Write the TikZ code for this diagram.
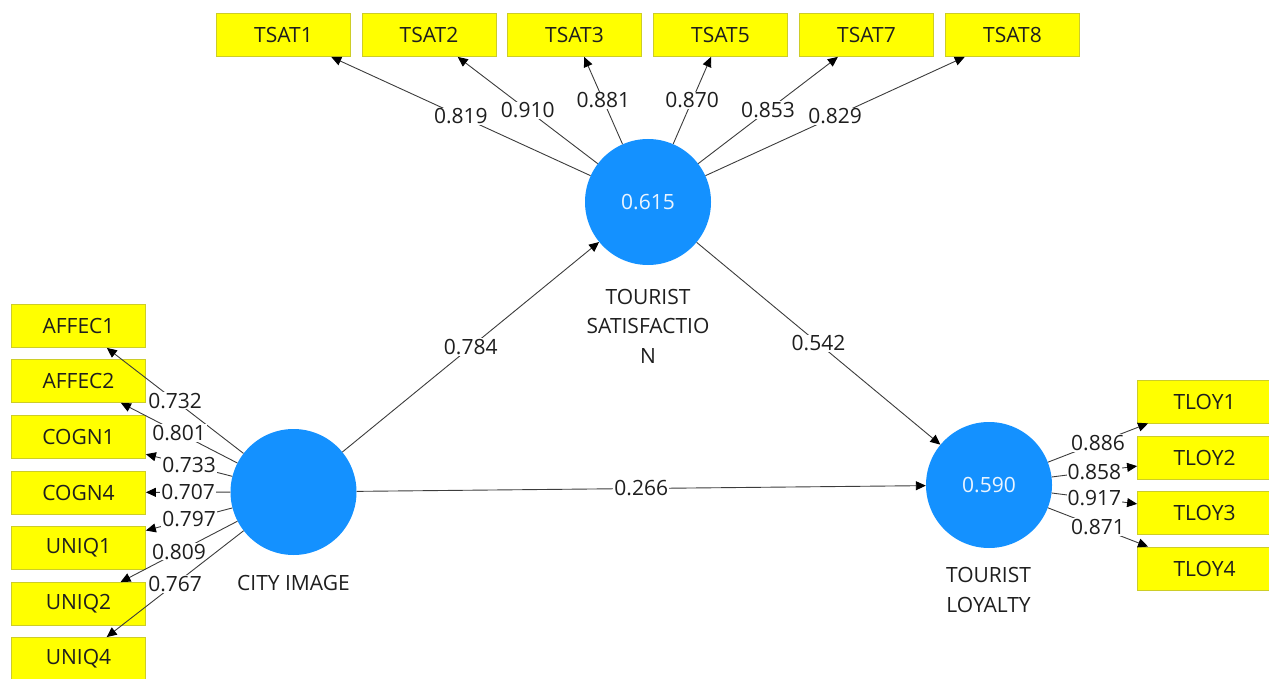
\documentclass[tikz,border=0pt]{standalone}
\usepackage{fontspec}
\setmainfont{Open Sans}
\usetikzlibrary{arrows.meta}
\definecolor{lvblue}{RGB}{20,145,255}
\definecolor{boxyel}{RGB}{255,255,0}
\definecolor{boxedge}{RGB}{205,205,40}
\definecolor{linegray}{RGB}{60,60,60}
\definecolor{txt}{RGB}{30,30,30}
\begin{document}
\begin{tikzpicture}[x=1pt,y=-1pt,font=\fontsize{21}{25}\selectfont,
  ind/.style={draw=boxedge,fill=boxyel,minimum width=134pt,minimum height=43pt,inner sep=0pt,line width=0.8pt,text=txt},
  lv/.style={circle,fill=lvblue,minimum size=126pt,inner sep=0pt,text={rgb,255:red,235;green,245;blue,255}},
  lvtext/.style={align=center,text=txt,font=\fontsize{21}{29.5}\selectfont},
  con/.style={draw=linegray,line width=0.9pt,-{Triangle[length=10pt,width=9pt,color=black]}},
  lbl/.style={midway,fill=white,inner sep=1pt,text=txt}]
\useasboundingbox (0,0) rectangle (1269,679);
% latent variables
\node[lv] (ci) at (293.5,492) {};
\node[lv] (ts) at (648,202) {0.615};
\node[lv] (tl) at (989,485) {0.590};
\node[lvtext] (cilab) at (293.5,583) {CITY IMAGE};
\node[lvtext] (tslab) at (648,326) {TOURIST\\SATISFACTIO\\N};
\node[lvtext] (tllab) at (988.5,590) {TOURIST\\LOYALTY};
% indicators top
\node[ind] (tsat1) at (283.5,35) {TSAT1};
\node[ind] (tsat2) at (429,35) {TSAT2};
\node[ind] (tsat3) at (574.5,35) {TSAT3};
\node[ind] (tsat5) at (720.5,35) {TSAT5};
\node[ind] (tsat7) at (866.5,35) {TSAT7};
\node[ind] (tsat8) at (1012.5,35) {TSAT8};
% indicators left
\node[ind] (affec1) at (78.5,326) {AFFEC1};
\node[ind] (affec2) at (78.5,381) {AFFEC2};
\node[ind] (cogn1) at (78.5,437) {COGN1};
\node[ind] (cogn4) at (78.5,492.5) {COGN4};
\node[ind] (uniq1) at (78.5,548) {UNIQ1};
\node[ind] (uniq2) at (78.5,604) {UNIQ2};
\node[ind] (uniq4) at (78.5,659) {UNIQ4};
% indicators right
\node[ind] (tloy1) at (1204.5,401.5) {TLOY1};
\node[ind] (tloy2) at (1204.5,457.5) {TLOY2};
\node[ind] (tloy3) at (1204.5,512.5) {TLOY3};
\node[ind] (tloy4) at (1204.5,568.5) {TLOY4};
% outer loadings TS
\draw[con] (ts) -- node[lbl] {0.819} (tsat1);
\draw[con] (ts) -- node[lbl] {0.910} (tsat2);
\draw[con] (ts) -- node[lbl] {0.881} (tsat3);
\draw[con] (ts) -- node[lbl] {0.870} (tsat5);
\draw[con] (ts) -- node[lbl] {0.853} (tsat7);
\draw[con] (ts) -- node[lbl] {0.829} (tsat8);
% outer loadings CI
\draw[con] (ci) -- node[lbl] {0.732} (affec1);
\draw[con] (ci) -- node[lbl] {0.801} (affec2);
\draw[con] (ci) -- node[lbl] {0.733} (cogn1);
\draw[con] (ci) -- node[lbl] {0.707} (cogn4);
\draw[con] (ci) -- node[lbl] {0.797} (uniq1);
\draw[con] (ci) -- node[lbl] {0.809} (uniq2);
\draw[con] (ci) -- node[lbl] {0.767} (uniq4);
% outer loadings TL
\draw[con] (tl) -- node[lbl] {0.886} (tloy1);
\draw[con] (tl) -- node[lbl] {0.858} (tloy2);
\draw[con] (tl) -- node[lbl] {0.917} (tloy3);
\draw[con] (tl) -- node[lbl] {0.871} (tloy4);
% structural paths
\draw[con] (ci) -- node[lbl] {0.784} (ts);
\draw[con] (ts) -- node[lbl] {0.542} (tl);
\draw[con] (ci) -- node[lbl] {0.266} (tl);
\end{tikzpicture}
\end{document}
